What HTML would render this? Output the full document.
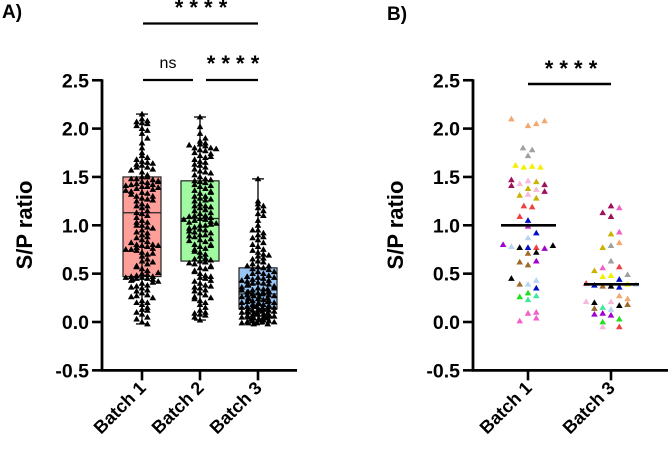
<!DOCTYPE html>
<html><head><meta charset="utf-8"><style>
html,body{margin:0;padding:0;background:#fff;}
svg{display:block;font-family:"Liberation Sans",Arial,sans-serif;}
</style></head><body>
<svg id="c" width="669" height="451" viewBox="0 0 669 451"></svg>
<script>
// ---- data ----
const yTicks = [2.5,2.0,1.5,1.0,0.5,0.0,-0.5];
const yTickLabels = ["2.5","2.0","1.5","1.0","0.5","0.0","-0.5"];
const catsA = ["Batch 1","Batch 2","Batch 3"];
const catsB = ["Batch 1","Batch 3"];
const boxMin = [-0.02,0.02,-0.02];
const boxQ1 = [0.47,0.63,0.14];
const boxMed = [1.13,1.07,0.29];
const boxQ3 = [1.50,1.46,0.56];
const boxMax = [2.15,2.12,1.48];
const batch1A = [2.15,2.1,2.08,2.06,2.05,2.03,2.0,1.98,1.95,1.9,1.85,1.8,1.75,1.72,1.7,1.68,1.66,1.65,1.63,1.62,1.6,1.6,1.58,1.55,1.52,1.5,1.5,1.48,1.47,1.45,1.44,1.43,1.42,1.42,1.4,1.4,1.38,1.37,1.35,1.34,1.33,1.3,1.3,1.28,1.27,1.25,1.22,1.2,1.2,1.18,1.15,1.13,1.12,1.1,1.08,1.05,1.03,1.0,0.98,0.95,0.92,0.9,0.88,0.85,0.83,0.8,0.8,0.79,0.78,0.77,0.76,0.75,0.72,0.7,0.68,0.65,0.63,0.6,0.58,0.55,0.53,0.5,0.49,0.48,0.47,0.47,0.46,0.45,0.45,0.44,0.43,0.42,0.4,0.38,0.37,0.35,0.33,0.3,0.28,0.27,0.25,0.22,0.2,0.18,0.15,0.13,0.12,0.1,0.08,0.05,0.03,0.0,-0.02,1.45,1.41,1.39,1.36,1.32,1.26,1.03,1.0,0.97,0.93,0.87,0.82,0.79,0.75,0.74,0.71,0.62,0.57,0.51,0.46,0.44,0.41,0.36,0.32,0.26,0.2,2.07,1.64,1.57,1.48,1.46];
const batch2A = [2.12,2.02,1.95,1.9,1.87,1.85,1.84,1.82,1.8,1.8,1.78,1.77,1.75,1.74,1.72,1.7,1.68,1.66,1.65,1.62,1.6,1.58,1.56,1.55,1.52,1.5,1.48,1.46,1.45,1.44,1.42,1.4,1.38,1.36,1.35,1.33,1.3,1.3,1.28,1.26,1.25,1.22,1.2,1.2,1.18,1.16,1.15,1.12,1.1,1.1,1.08,1.07,1.06,1.05,1.04,1.03,1.02,1.0,1.0,0.98,0.96,0.95,0.93,0.92,0.9,0.9,0.88,0.86,0.85,0.83,0.8,0.8,0.78,0.76,0.75,0.72,0.7,0.68,0.66,0.65,0.63,0.62,0.6,0.58,0.56,0.55,0.53,0.5,0.48,0.46,0.45,0.42,0.4,0.38,0.36,0.35,0.33,0.3,0.28,0.26,0.25,0.22,0.2,0.18,0.15,0.12,0.1,0.08,0.07,0.05,0.02,1.83,1.79,1.71,1.63,1.54,1.47,1.41,1.34,1.27,1.19,1.13,1.09,1.06,1.01,0.97,0.94,0.89,0.84,0.79,0.73,0.64,0.61,0.57,0.52,0.47,0.43,0.37,0.32,0.24,0.09];
const batch3A = [1.48,1.25,1.22,1.2,1.18,1.15,1.12,1.1,1.05,1.0,0.95,0.92,0.9,0.88,0.85,0.82,0.8,0.78,0.75,0.72,0.7,0.68,0.66,0.65,0.63,0.62,0.6,0.58,0.57,0.56,0.55,0.54,0.52,0.5,0.5,0.48,0.47,0.46,0.45,0.44,0.43,0.42,0.41,0.4,0.4,0.39,0.38,0.37,0.36,0.35,0.34,0.33,0.32,0.31,0.3,0.3,0.29,0.28,0.28,0.27,0.26,0.25,0.25,0.24,0.23,0.22,0.22,0.21,0.2,0.2,0.19,0.18,0.18,0.17,0.16,0.15,0.15,0.14,0.14,0.13,0.13,0.12,0.12,0.11,0.11,0.1,0.1,0.09,0.09,0.08,0.08,0.07,0.07,0.06,0.06,0.05,0.05,0.04,0.04,0.03,0.03,0.02,0.02,0.01,0.01,0.0,0.0,-0.01,-0.01,-0.02,-0.02,0.35,0.33,0.31,0.27,0.24,0.21,0.17,0.14,0.11,0.08,0.05,0.03,0.0,0.58,0.52,0.46,0.43,0.38,0.34,0.29,0.26,0.19,0.16,0.12,0.09,0.06,0.02,-0.01,0.95,0.87,0.74,0.69];
const b1Values = [2.1,2.03,2.05,2.08,1.8,1.78,1.72,1.62,1.6,1.61,1.6,1.47,1.41,1.43,1.46,1.45,1.42,1.35,1.31,1.38,1.37,1.32,1.28,1.2,1.19,1.09,1.05,0.99,0.92,0.87,0.8,0.78,0.77,0.77,0.77,0.76,0.79,0.71,0.72,0.62,0.59,0.63,0.45,0.39,0.39,0.43,0.35,0.26,0.3,0.27,0.23,0.01,0.09,0.1,0.04];
const b1Slots = [-2,0,1,2,-0.6,0.5,0,-1.5,-0.5,0.5,1.5,-2,-2,-1,0,1,2,2,-1,0,1,0,1,-0.5,0.5,-1,0,0,1,0,-3,-2,-1,0,1,2,3,0,1,-1,0,1,-2,-1,0,1,1,-1,0,1,0,-1,0,1,1];
const b1Colors = ["sa","sa","sa","sa","gy","gy","gy","ye","ye","ye","ye","mr","mr","pk","pk","ol","mr","mr","ol","ol","pk","pk","ol","rd","rd","rd","bl","mg","bl","lb","pu","lb","bk","bl","rd","pu","bk","br","bk","br","br","pu","bk","br","lb","lb","bl","gr","gr","tl","tl","hp","hp","hp","hp"];
const b3Values = [1.13,1.2,1.09,1.18,0.91,0.93,0.82,0.77,0.79,0.63,0.53,0.56,0.57,0.49,0.47,0.48,0.44,0.4,0.38,0.37,0.37,0.36,0.39,0.39,0.27,0.24,0.21,0.2,0.15,0.21,0.17,0.18,0.14,0.13,0.08,0.09,0.07,0.0,0.03,-0.05,-0.05];
const b3Slots = [-1,0,0,1,0,1,1,-1,0,0,-2,-1,1,2,-1,0,1,-3,-2,-1,0,1,2,3,1,2,-3,-2,-1,0,1,2,-2,0,-2,-1,0,-1,1,-1,1];
const b3Colors = ["mr","mr","mr","hp","ol","hp","sa","ol","gy","gy","ol","hp","rd","gy","ye","ye","bl","rd","bl","br","bk","bl","ye","lb","sa","sa","pk","bk","tl","pk","bk","br","br","lb","pu","pu","pu","gr","gr","pk","rd"];
const medB = [1.0,0.39];
const palette = {sa:"#f4a870",gy:"#a0a0a0",ye:"#f0f000",mr:"#a0105a",pk:"#f4b8dc",ol:"#c8b400",rd:"#f04040",bl:"#0010c8",mg:"#c020c0",lb:"#b8d4f4",pu:"#a000d0",bk:"#000000",br:"#a06a2a",gr:"#20e020",tl:"#40e8a0",hp:"#f060c8"};

// ---- helpers ----
const svg = document.getElementById('c');
const NS = "http://www.w3.org/2000/svg";
function mk(tag, attrs, parent){const e=document.createElementNS(NS,tag);for(const k in attrs)e.setAttribute(k,attrs[k]);(parent||svg).appendChild(e);return e;}
const yScale = v => 322 - v*96.7;
function tri(x,y,fill,parent){
  const p = mk('polygon',{points:`${x},${y-3.3} ${x-3.3},${y+2.4} ${x+3.3},${y+2.4}`,fill:fill},parent);
  
  
  return p;
}
function txt(x,y,s,attrs,name){const t=mk('text',Object.assign({x:x,y:y},attrs));t.textContent=s;return t;}
function axes(ax, xEnd, cats, xPos, g){
  mk('line',{x1:ax,y1:yScale(2.5)-1,x2:ax,y2:yScale(-0.5)+1,stroke:"#000","stroke-width":2.8},g);
  mk('line',{x1:ax-1,y1:yScale(-0.5),x2:xEnd,y2:yScale(-0.5),stroke:"#000","stroke-width":2.8},g);
  yTicks.forEach((v,i)=>{
    mk('line',{x1:ax-10,y1:yScale(v),x2:ax,y2:yScale(v),stroke:"#000","stroke-width":2.6},g);
    txt(ax-13,yScale(v)+7,yTickLabels[i],{"text-anchor":"end","font-size":19.5,"font-weight":"bold"},'y-tick-label');
  });
  cats.forEach((c,i)=>{
    mk('line',{x1:xPos(i),y1:yScale(-0.5),x2:xPos(i),y2:yScale(-0.5)+10,stroke:"#000","stroke-width":2.6},g);
    txt(xPos(i)+5,389,c,{"text-anchor":"end","font-size":18,"font-weight":"bold",transform:`rotate(-45 ${xPos(i)+5} 389)`},'x-tick-label');
  });
}
function swarm(vals, cx, maxHalf){
  const bins={};
  vals.forEach(v=>{
    const b=Math.round(v/0.055);
    const k=(bins[b]=(bins[b]||0)+1)-1;
    let off = k===0?0:(k%2? 1:-1)*Math.ceil(k/2)*5.4;
    while(Math.abs(off)>maxHalf) off = off>0? off-maxHalf*2+2.7 : off+maxHalf*2-2.7;
    tri(cx+off, yScale(v), "#000", gA);
  });
}

// ---- panel A ----
const gA = mk('g',{});  
const xA = i => 142 + i*58;
txt(2,18,"A)",{"font-size":19,"font-weight":"bold"},'panel-a-label');
txt(32,225,"S/P ratio",{"text-anchor":"middle","font-size":22,"font-weight":"bold",transform:"rotate(-90 32 225)"},'y-axis-title');
const boxFill=["#ff9f9a","#a0fba0","#9ac6f6"];
[batch1A,batch2A,batch3A].forEach((vals,i)=>{
  const cx=xA(i);
  const r=mk('rect',{x:cx-19,y:yScale(boxQ3[i]),width:38,height:yScale(boxQ1[i])-yScale(boxQ3[i]),fill:boxFill[i],stroke:"#222","stroke-width":1.2},gA);
  
  mk('line',{x1:cx-19,x2:cx+19,y1:yScale(boxMed[i]),y2:yScale(boxMed[i]),stroke:"#222","stroke-width":1.2},gA);
  mk('line',{x1:cx,x2:cx,y1:yScale(boxMax[i]),y2:yScale(boxMin[i]),stroke:"#111","stroke-width":1.4},gA);
  mk('line',{x1:cx-6,x2:cx+6,y1:yScale(boxMax[i]),y2:yScale(boxMax[i]),stroke:"#111","stroke-width":1.4},gA);
  mk('line',{x1:cx-6,x2:cx+6,y1:yScale(boxMin[i]),y2:yScale(boxMin[i]),stroke:"#111","stroke-width":1.4},gA);
  swarm(vals,cx,17);
});
axes(102,297,catsA,xA,gA);
mk('line',{x1:143,x2:258,y1:23.5,y2:23.5,stroke:"#000","stroke-width":2.2},gA);
txt(201,15,"* * * *",{"text-anchor":"middle","font-size":22,"font-weight":"bold"},'sig-stars-1-3');
mk('line',{x1:143,x2:193,y1:80,y2:80,stroke:"#000","stroke-width":2.2},gA);
txt(168,68,"ns",{"text-anchor":"middle","font-size":16},'sig-ns');
mk('line',{x1:206,x2:258,y1:80,y2:80,stroke:"#000","stroke-width":2.2},gA);
txt(233,71,"* * * *",{"text-anchor":"middle","font-size":22,"font-weight":"bold"},'sig-stars-2-3');

// ---- panel B ----
const gB = mk('g',{});  
const xB = i => 528 + i*83;
txt(387,20,"B)",{"font-size":19,"font-weight":"bold"},'panel-b-label');
txt(403,225,"S/P ratio",{"text-anchor":"middle","font-size":22,"font-weight":"bold",transform:"rotate(-90 403 225)"},'y-axis-title-b');
b1Values.forEach((v,j)=>tri(xB(0)+b1Slots[j]*8.3, yScale(v), palette[b1Colors[j]], gB));
b3Values.forEach((v,j)=>tri(xB(1)+b3Slots[j]*8.3, yScale(v), palette[b3Colors[j]], gB));
medB.forEach((m,i)=>{
  mk('line',{x1:xB(i)-27,x2:xB(i)+28,y1:yScale(m),y2:yScale(m),stroke:"#000","stroke-width":2.6},gB);
});
axes(473,668,catsB,xB,gB);
mk('line',{x1:528,x2:611,y1:84,y2:84,stroke:"#000","stroke-width":2.4},gB);
txt(571,76,"* * * *",{"text-anchor":"middle","font-size":22,"font-weight":"bold"},'sig-stars-b');
</script>
</body></html>
